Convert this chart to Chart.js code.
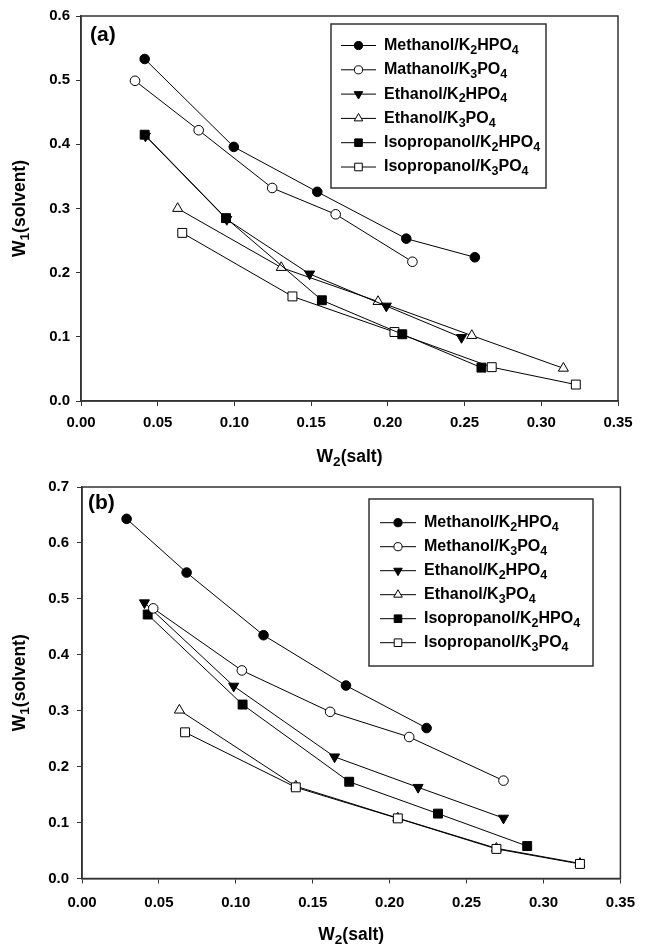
<!DOCTYPE html>
<html lang="en">
<head>
<meta charset="UTF-8">
<title>Binodal curves</title>
<script src="https://cdn.jsdelivr.net/npm/chart.js@4"></script>
<style>
  html, body { margin: 0; padding: 0; background: #fff; }
  body { width: 645px; height: 947px; position: relative; overflow: hidden; }
  canvas { position: absolute; left: 0; }
  #chartA { top: 0; }
  #chartB { top: 470px; }
</style>
</head>
<body>
<canvas id="chartA" width="645" height="470"></canvas>
<canvas id="chartB" width="645" height="477"></canvas>
<script>
  // tick labels
  const xTickLabels = ['0.00', '0.05', '0.10', '0.15', '0.20', '0.25', '0.30', '0.35'];
  const yTickLabelsA = ['0.0', '0.1', '0.2', '0.3', '0.4', '0.5', '0.6'];
  const yTickLabelsB = ['0.0', '0.1', '0.2', '0.3', '0.4', '0.5', '0.6', '0.7'];

  // legend labels
  const labelsA = ['Methanol/K₂HPO₄', 'Mathanol/K₃PO₄', 'Ethanol/K₂HPO₄', 'Ethanol/K₃PO₄', 'Isopropanol/K₂HPO₄', 'Isopropanol/K₃PO₄'];
  const labelsB = ['Methanol/K₂HPO₄', 'Methanol/K₃PO₄', 'Ethanol/K₂HPO₄', 'Ethanol/K₃PO₄', 'Isopropanol/K₂HPO₄', 'Isopropanol/K₃PO₄'];

  // (a) [W2, W1]
  const aMethanolK2 = [[0.0415, 0.533], [0.0996, 0.396], [0.154, 0.326], [0.212, 0.253], [0.2567, 0.224]];
  const aMethanolK3 = [[0.0352, 0.499], [0.0767, 0.422], [0.1246, 0.332], [0.166, 0.291], [0.216, 0.217]];
  const aEthanolK2 = [[0.042, 0.413], [0.095, 0.283], [0.149, 0.198], [0.199, 0.148], [0.248, 0.099]];
  const aEthanolK3 = [[0.063, 0.300], [0.1305, 0.208], [0.1936, 0.155], [0.2547, 0.102], [0.3144, 0.051]];
  const aIsoK2 = [[0.0415, 0.415], [0.0945, 0.285], [0.157, 0.157], [0.2094, 0.104], [0.261, 0.052]];
  const aIsoK3 = [[0.066, 0.262], [0.1378, 0.163], [0.2043, 0.1075], [0.2677, 0.0527], [0.3225, 0.0256]];

  // (b) [W2, W1]
  const bMethanolK2 = [[0.029, 0.643], [0.068, 0.547], [0.118, 0.435], [0.1716, 0.345], [0.224, 0.269]];
  const bMethanolK3 = [[0.0463, 0.483], [0.1039, 0.372], [0.1613, 0.298], [0.2127, 0.253], [0.274, 0.175]];
  const bEthanolK2 = [[0.0406, 0.493], [0.0986, 0.344], [0.1642, 0.2175], [0.2185, 0.163], [0.274, 0.108]];
  const bEthanolK3 = [[0.0633, 0.301], [0.139, 0.165], [0.2053, 0.108], [0.2694, 0.054], [0.3237, 0.027]];
  const bIsoK2 = [[0.0427, 0.472], [0.1044, 0.311], [0.1737, 0.173], [0.2314, 0.116], [0.2894, 0.058]];
  const bIsoK3 = [[0.067, 0.2614], [0.139, 0.163], [0.2053, 0.1075], [0.2694, 0.0529], [0.3237, 0.026]];

  const FONT = '"Liberation Sans", Arial, sans-serif';
  const SUB = '₀₁₂₃₄₅₆₇₈₉';

  // marker look per series (same order in both panels)
  const markers = [
    { style: 'circle', fill: '#000', r: 4.8, rot: 0 },
    { style: 'circle', fill: '#fff', r: 4.8, rot: 0 },
    { style: 'triangle', fill: '#000', r: 5.8, rot: 180 },
    { style: 'triangle', fill: '#fff', r: 5.8, rot: 0 },
    { style: 'rect', fill: '#000', r: 6.3, rot: 0 },
    { style: 'rect', fill: '#fff', r: 6.3, rot: 0 }
  ];
  const drawOrder = [0, 0, 1, 1, 0, 0];

  // text with subscript digits
  function drawRich(ctx, text, x, y, size, align) {
    const parts = [];
    for (const ch of text) {
      const i = SUB.indexOf(ch);
      parts.push(i >= 0 ? { t: String(i), sub: true } : { t: ch, sub: false });
    }
    let w = 0;
    parts.forEach(p => {
      ctx.font = 'bold ' + (p.sub ? size * 0.78 : size) + 'px ' + FONT;
      p.w = ctx.measureText(p.t).width;
      w += p.w;
    });
    let cx = align === 'center' ? x - w / 2 : x;
    ctx.textAlign = 'left';
    ctx.textBaseline = 'middle';
    parts.forEach(p => {
      ctx.font = 'bold ' + (p.sub ? size * 0.78 : size) + 'px ' + FONT;
      ctx.fillText(p.t, cx, p.sub ? y + size * 0.3 : y);
      cx += p.w;
    });
  }

  const decor = {
    id: 'decor',
    afterDraw(chart, args, o) {
      const { ctx, chartArea: a } = chart;
      ctx.save();
      ctx.strokeStyle = '#333';
      ctx.lineWidth = 1.5;
      ctx.strokeRect(a.left, a.top, a.right - a.left, a.bottom - a.top);

      ctx.fillStyle = '#000';
      drawRich(ctx, o.panel, o.panelX, o.panelY, 21, 'left');
      drawRich(ctx, 'W₂(salt)', (a.left + a.right) / 2, o.xTitleY, 17.5, 'center');
      ctx.save();
      ctx.translate(o.yTitleX, (a.top + a.bottom) / 2);
      ctx.rotate(-Math.PI / 2);
      drawRich(ctx, 'W₁(solvent)', 0, 0, 17.5, 'center');
      ctx.restore();

      // legend
      const L = o.legend;
      ctx.strokeStyle = '#333';
      ctx.lineWidth = 1.5;
      ctx.strokeRect(L.x, L.y, L.w, L.h);
      chart.data.datasets.forEach((ds, i) => {
        const y = L.row0 + i * L.gap;
        ctx.strokeStyle = '#000';
        ctx.lineWidth = 1;
        ctx.beginPath();
        ctx.moveTo(L.x0, y);
        ctx.lineTo(L.x1, y);
        ctx.stroke();
        ctx.fillStyle = ds.pointBackgroundColor;
        Chart.helpers.drawPoint(ctx, {
          pointStyle: ds.pointStyle, radius: ds.pointRadius * 0.85,
          rotation: ds.pointRotation, borderWidth: 1
        }, (L.x0 + L.x1) / 2, y);
        ctx.fillStyle = '#000';
        drawRich(ctx, ds.label, L.textX, y, 16, 'left');
      });
      ctx.restore();
    }
  };

  function makeDatasets(series, labels) {
    return series.map((pts, i) => ({
      label: labels[i],
      data: pts.map(p => ({ x: p[0], y: p[1] })),
      showLine: true,
      borderColor: '#000',
      borderWidth: 1,
      pointStyle: markers[i].style,
      pointRadius: markers[i].r,
      pointRotation: markers[i].rot,
      pointBackgroundColor: markers[i].fill,
      pointBorderColor: '#000',
      pointBorderWidth: 1,
      order: drawOrder[i]
    }));
  }

  function axis(labels, extra) {
    return Object.assign({
      type: 'linear',
      min: parseFloat(labels[0]),
      max: parseFloat(labels[labels.length - 1]),
      afterBuildTicks: s => { s.ticks = labels.map(t => ({ value: parseFloat(t) })); },
      grid: { display: true, drawOnChartArea: false, drawTicks: true, tickLength: 5, color: '#333', lineWidth: 1 },
      border: { display: true, color: '#333', width: 1.5 }
    }, extra);
  }

  function makeChart(id, series, labels, yLabels, g) {
    return new Chart(document.getElementById(id), {
      type: 'scatter',
      data: { datasets: makeDatasets(series, labels) },
      options: {
        responsive: false,
        animation: false,
        layout: { padding: g.padding },
        plugins: { legend: { display: false }, tooltip: { enabled: false }, decor: g.decor },
        scales: {
          x: axis(xTickLabels, {
            afterFit: s => { s.height = g.xHeight; },
            ticks: {
              callback: (v, i) => xTickLabels[i], autoSkip: false, maxRotation: 0,
              padding: g.xPad, color: '#000', font: { family: FONT, size: 15, weight: 'bold' }
            }
          }),
          y: axis(yLabels, {
            afterFit: s => { s.width = g.yWidth; },
            ticks: {
              callback: (v, i) => yLabels[i], autoSkip: false,
              padding: g.yPad, color: '#000', font: { family: FONT, size: 15, weight: 'bold' }
            }
          })
        }
      },
      plugins: [decor]
    });
  }

  makeChart('chartA',
    [aMethanolK2, aMethanolK3, aEthanolK2, aEthanolK3, aIsoK2, aIsoK3], labelsA, yTickLabelsA, {
      padding: { left: 0, top: 16, right: 27, bottom: 0 },
      xHeight: 69, yWidth: 81, xPad: 8, yPad: 6,
      decor: {
        panel: '(a)', panelX: 90, panelY: 35, xTitleY: 457, yTitleX: 20,
        legend: { x: 331, y: 24, w: 215, h: 164, row0: 45.5, gap: 24.3, x0: 341, x1: 376, textX: 384 }
      }
    });

  makeChart('chartB',
    [bMethanolK2, bMethanolK3, bEthanolK2, bEthanolK3, bIsoK2, bIsoK3], labelsB, yTickLabelsB, {
      padding: { left: 0, top: 17, right: 17, bottom: 0 },
      xHeight: 68.5, yWidth: 82, xPad: 10, yPad: 8,
      decor: {
        panel: '(b)', panelX: 88, panelY: 33, xTitleY: 465, yTitleX: 20,
        legend: { x: 369, y: 29, w: 224, h: 167, row0: 52.7, gap: 24, x0: 380, x1: 416, textX: 424 }
      }
    });
</script>
</body>
</html>
